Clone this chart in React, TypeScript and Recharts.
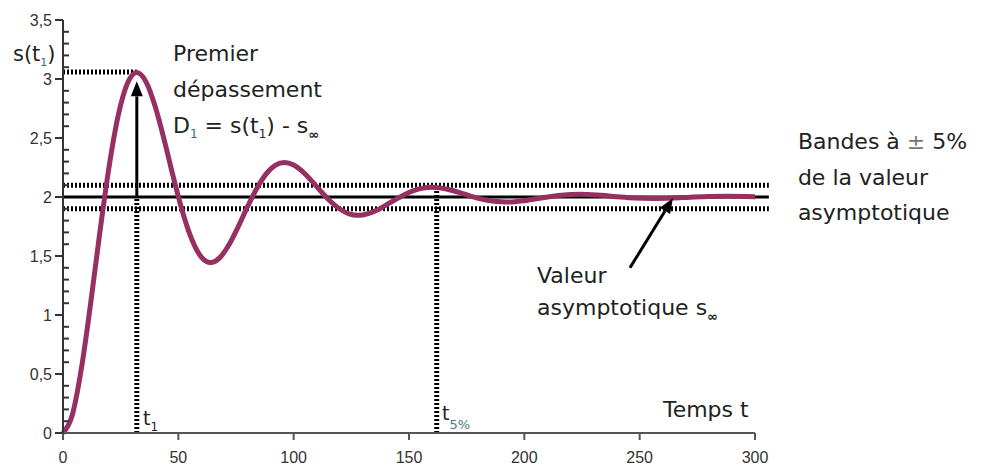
import React from 'react';
import { ComposedChart, Line, XAxis, YAxis, ReferenceLine, ReferenceDot } from 'recharts';

// ---- data ----
const timeValues = [
  0, 4, 8, 12, 16, 20, 24, 28, 32, 36, 40, 44, 48, 52, 56, 60, 64, 68, 72, 76, 80, 84, 88, 92, 96, 100,
  104, 108, 112, 116, 120, 124, 128, 132, 136, 140, 144, 148, 152, 156, 160, 164, 168, 172, 176, 180,
  184, 188, 192, 196, 200, 208, 216, 224, 232, 240, 248, 256, 264, 272, 280, 288, 296, 300,
];
const responseValues = [
  0, 0.15, 0.549, 1.101, 1.704, 2.26, 2.697, 2.966, 3.055, 2.976, 2.765, 2.474, 2.156, 1.863, 1.633, 1.49,
  1.444, 1.486, 1.597, 1.75, 1.918, 2.072, 2.194, 2.269, 2.293, 2.271, 2.213, 2.132, 2.043, 1.962, 1.898,
  1.858, 1.845, 1.857, 1.888, 1.931, 1.977, 2.02, 2.054, 2.075, 2.082, 2.075, 2.059, 2.037, 2.012, 1.989,
  1.972, 1.961, 1.957, 1.96, 1.969, 1.994, 2.015, 2.023, 2.016, 2.003, 1.992, 1.988, 1.991, 1.998, 2.004,
  2.006, 2.005, 2.003,
];
const xTicks = [0, 50, 100, 150, 200, 250, 300];
const yMajorTicks = [0, 0.5, 1, 1.5, 2, 2.5, 3, 3.5];
const yMinorTicks = [
  0.1, 0.2, 0.3, 0.4, 0.6, 0.7, 0.8, 0.9, 1.1, 1.2, 1.3, 1.4, 1.6, 1.7, 1.8, 1.9, 2.1, 2.2, 2.3, 2.4,
  2.6, 2.7, 2.8, 2.9, 3.1, 3.2, 3.3, 3.4,
];
const yAllTicks = [...yMajorTicks, ...yMinorTicks].sort((a, b) => a - b);

const asymptoticValue = 2;
const bandUpper = 2.1;
const bandLower = 1.9;
const t1 = 32;
const sT1 = 3.06;
const t5 = 162;
const sT5 = 2.08;
const lineEnd = 306;

const chartData = timeValues.map((t, i) => ({ t, v: responseValues[i] }));

// dotted guide segments: [t0, v0, t1, v1]
const dottedSegments = [
  [0, bandUpper, lineEnd, bandUpper],
  [0, bandLower, lineEnd, bandLower],
  [0, sT1, t1, sT1],
  [t1, 0, t1, asymptoticValue],
  [t5, 0, t5, sT5],
];
// arrows: [tFrom, vFrom, tTo, vTo]
const arrowSegments = [
  [t1, asymptoticValue, t1, 2.98],
  [245.8, 1.4, 264.4, 1.99],
];

// text annotations anchored in data units
const annotations = [
  { id: 'premier', t: 47.7, v: 3.15 },
  { id: 'depassement', t: 47.7, v: 2.85 },
  { id: 'formula', t: 47.7, v: 2.54 },
  { id: 'valeur', t: 205.5, v: 1.27 },
  { id: 'asympt', t: 205.5, v: 1.0 },
  { id: 'temps', t: 260.1, v: 0.136 },
  { id: 'bandes1', t: 318.6, v: 2.407 },
  { id: 'bandes2', t: 318.6, v: 2.102 },
  { id: 'bandes3', t: 318.6, v: 1.805 },
  { id: 'st1', t: -21.7, v: 3.15 },
  { id: 't1', t: 34.7, v: 0.068 },
  { id: 't5', t: 164.3, v: 0.11 },
];

const FONT = "'DejaVu Sans', sans-serif";
const AXIS_FONT = "'Liberation Sans', Arial, sans-serif";
const TXT = '#222';
const Y_TICK_SIZE = 8;
const Y_TICK_MARGIN = 3;
const MINOR_TICK = 6;

function renderAnnotation(id: string, x: number, y: number) {
  const common = { x, y, fontFamily: FONT, fill: TXT, fontSize: 22 } as any;
  switch (id) {
    case 'premier':
      return <text {...common}>Premier</text>;
    case 'depassement':
      return <text {...common}>dépassement</text>;
    case 'formula':
      return (
        <text {...common}>
          D<tspan fontSize={12} dy={5} fill="#2b6f8f">1</tspan>
          <tspan dy={-5}> = s(t</tspan>
          <tspan fontSize={12} dy={5}>1</tspan>
          <tspan dy={-5}>) - s</tspan>
          <tspan fontSize={13} dy={6} fontWeight="bold">∞</tspan>
        </text>
      );
    case 'valeur':
      return <text {...common}>Valeur</text>;
    case 'asympt':
      return (
        <text {...common}>
          asymptotique s<tspan fontSize={13} dy={6} fontWeight="bold">∞</tspan>
        </text>
      );
    case 'temps':
      return <text {...common}>Temps t</text>;
    case 'bandes1':
      return (
        <text {...common}>
          Bandes à <tspan fill="#777">±</tspan> 5%
        </text>
      );
    case 'bandes2':
      return <text {...common}>de la valeur</text>;
    case 'bandes3':
      return <text {...common}>asymptotique</text>;
    case 'st1':
      return (
        <text {...common} fontSize={21}>
          s(t<tspan fontSize={11} dy={5} fill="#2b6f8f">1</tspan>
          <tspan dy={-5}>)</tspan>
        </text>
      );
    case 't1':
      return (
        <text {...common} fontSize={19}>
          t<tspan fontSize={12} dy={6}>1</tspan>
        </text>
      );
    case 't5':
      return (
        <text {...common} fontSize={19}>
          t<tspan fontSize={13} dy={9} fill="#4a7a80">5%</tspan>
        </text>
      );
    default:
      return <g />;
  }
}

const arrowShape = (props: any) => {
  const { x1, y1, x2, y2 } = props;
  const ang = Math.atan2(y2 - y1, x2 - x1);
  const L = 15;
  const W = 6;
  const bx = x2 - L * Math.cos(ang);
  const by = y2 - L * Math.sin(ang);
  const px = -Math.sin(ang) * W;
  const py = Math.cos(ang) * W;
  return (
    <g>
      <line x1={x1} y1={y1} x2={bx} y2={by} stroke="#000" strokeWidth={3} />
      <polygon points={`${x2},${y2} ${bx + px},${by + py} ${bx - px},${by - py}`} fill="#000" />
    </g>
  );
};

const fmt = (v: number) => String(v).replace('.', ',');

const YTick = (p: any) => {
  const v = Number(p.payload.value);
  const ax = p.x + Y_TICK_SIZE + Y_TICK_MARGIN;
  const isMajor = yMajorTicks.some((m) => Math.abs(m - v) < 1e-6);
  if (!isMajor) {
    return <line x1={ax} x2={ax + MINOR_TICK} y1={p.y} y2={p.y} stroke="#333" strokeWidth={2} />;
  }
  return (
    <g>
      <line x1={ax - Y_TICK_SIZE} x2={ax} y1={p.y} y2={p.y} stroke="#333" strokeWidth={2} />
      <text
        x={p.x}
        y={p.y}
        dy="0.35em"
        textAnchor="end"
        fill="#333"
        fontSize={16}
        fontFamily={AXIS_FONT}
      >
        {fmt(v)}
      </text>
    </g>
  );
};

export default function App() {
  return (
    <div style={{ position: 'absolute', left: 0, top: 0, width: 984, height: 466, background: '#fff' }}>
      <ComposedChart
        width={984}
        height={466}
        data={chartData}
        margin={{ top: 20, right: 229, bottom: 0, left: 0 }}
      >
        <XAxis
          type="number"
          dataKey="t"
          domain={[0, 300]}
          ticks={xTicks}
          interval={0}
          height={33}
          tickSize={7}
          tickMargin={12}
          axisLine={{ stroke: '#555', strokeWidth: 2 }}
          tickLine={{ stroke: '#555', strokeWidth: 2 }}
          tick={{ fill: '#333', fontSize: 16, fontFamily: AXIS_FONT }}
        />
        <YAxis
          type="number"
          domain={[0, 3.5]}
          ticks={yAllTicks}
          interval={0}
          width={63}
          tickSize={Y_TICK_SIZE}
          tickMargin={Y_TICK_MARGIN}
          axisLine={{ stroke: '#333', strokeWidth: 2 }}
          tickLine={false}
          tick={<YTick />}
        />
        {dottedSegments.map((s, i) => (
          <ReferenceLine
            key={'d' + i}
            segment={[
              { x: s[0], y: s[1] },
              { x: s[2], y: s[3] },
            ]}
            ifOverflow="visible"
            stroke="#000"
            strokeWidth={5}
            strokeDasharray="2 2"
          />
        ))}
        <ReferenceLine
          segment={[
            { x: 0, y: asymptoticValue },
            { x: lineEnd, y: asymptoticValue },
          ]}
          ifOverflow="visible"
          stroke="#000"
          strokeWidth={3}
        />
        <Line
          type="monotone"
          dataKey="v"
          stroke="#962f62"
          strokeWidth={5}
          dot={false}
          activeDot={false}
          isAnimationActive={false}
        />
        {arrowSegments.map((s, i) => (
          <ReferenceLine
            key={'a' + i}
            segment={[
              { x: s[0], y: s[1] },
              { x: s[2], y: s[3] },
            ]}
            ifOverflow="visible"
            stroke="#000"
            strokeWidth={3}
            shape={arrowShape}
          />
        ))}
        {annotations.map((a) => (
          <ReferenceDot
            key={a.id}
            x={a.t}
            y={a.v}
            r={1}
            ifOverflow="visible"
            shape={(p: any) => renderAnnotation(a.id, p.cx, p.cy)}
          />
        ))}
      </ComposedChart>
    </div>
  );
}
